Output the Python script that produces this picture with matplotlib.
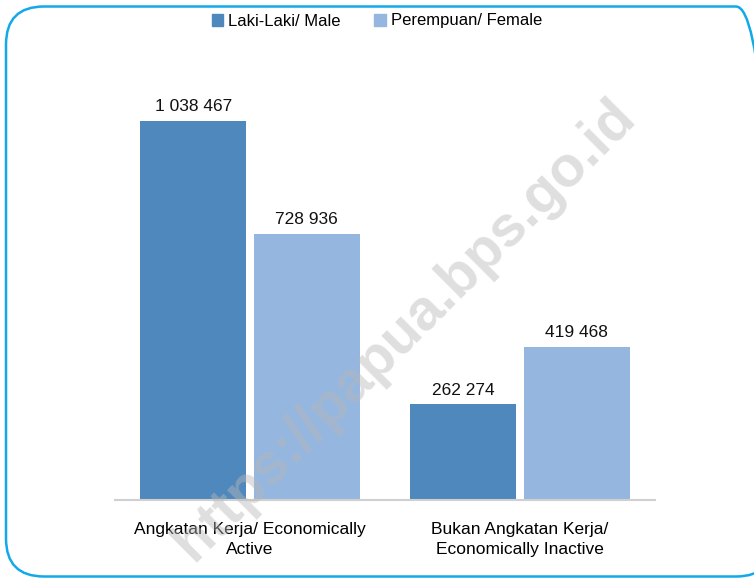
import numpy as np
import matplotlib
matplotlib.use('Agg')
import matplotlib.pyplot as plt
from matplotlib.patches import FancyBboxPatch, Patch

categories = ["Angkatan Kerja/ Economically\nActive", "Bukan Angkatan Kerja/\nEconomically Inactive"]
series = ["Laki-Laki/ Male", "Perempuan/ Female"]
male = [1038467, 262274]
female = [728936, 419468]
colors = ["#4F88BD", "#95B6DE"]

plt.rcParams['font.family'] = ['Liberation Sans Narrow', 'Liberation Sans', 'DejaVu Sans']

fig = plt.figure(figsize=(7.54, 5.78), dpi=100)

# rounded border (in inches, right side runs off the picture)
border = FancyBboxPatch((0.06, 0.015), 7.68, 5.70,
                        boxstyle="round,pad=0,rounding_size=0.38",
                        transform=fig.dpi_scale_trans, fill=False,
                        edgecolor="#12A9E8", linewidth=1.8, clip_on=False)
fig.patches.append(border)

ax = fig.add_axes([115 / 754, 1 - 500 / 578, 540 / 754, 438 / 578])
x = np.arange(len(categories))
w = 0.393
off = 0.21
for vals, col, sign in [(male, colors[0], -1), (female, colors[1], 1)]:
    bars = ax.bar(x + sign * off, vals, width=w, color=col)
    for b, v in zip(bars, vals):
        lbl = "{:,}".format(v).replace(",", " ")
        ax.text(b.get_x() + b.get_width() / 2, v + 18000, lbl,
                ha='center', va='bottom', fontsize=12.5, color='#111111')

ax.set_xlim(-0.5, 1.5)
ax.set_ylim(0, 1200000)
ax.set_yticks([])
ax.set_xticks(x)
ax.set_xticklabels(categories, fontsize=12.5, linespacing=1.4)
ax.tick_params(axis='x', length=0, pad=16)
for s in ['top', 'right', 'left']:
    ax.spines[s].set_visible(False)
ax.spines['bottom'].set_color('#D0D0D0')
ax.spines['bottom'].set_linewidth(1.5)

handles = [Patch(color=c, label=s) for c, s in zip(colors, series)]
fig.legend(handles=handles, loc='center', bbox_to_anchor=(0.5, 1 - 21 / 578),
           ncol=2, frameon=False, fontsize=12, handlelength=0.7, handleheight=0.7,
           handletextpad=0.3, columnspacing=2.0)

# watermark
fig.text(405 / 754, 1 - 330 / 578, "https://papua.bps.go.id", rotation=45,
         ha='center', va='center', fontsize=41, fontweight='bold',
         family=['Liberation Sans', 'DejaVu Sans'], color='#B8B8B8', alpha=0.45)

fig.savefig("out.png", dpi=100)
